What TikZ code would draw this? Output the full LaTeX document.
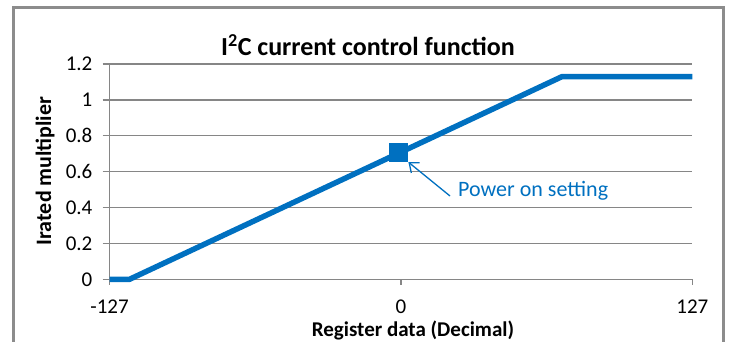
\documentclass[tikz,border=0pt]{standalone}
\usepackage{fontspec}
\setmainfont{Carlito}
\usetikzlibrary{arrows.meta,positioning}

\definecolor{lineblue}{HTML}{0070C0}
\definecolor{gridgray}{HTML}{868686}
\definecolor{framegray}{HTML}{8C8C8C}

\begin{document}
\begin{tikzpicture}[
    x=1pt, y=1pt,
    frame/.style={draw=framegray, line width=3pt},
    grid line/.style={draw=gridgray, line width=1.3pt},
    curve/.style={draw=lineblue, line width=5.5pt, line join=round},
    marker/.style={rectangle, fill=lineblue, minimum size=19pt, inner sep=0pt},
    ticklabel/.style={font=\fontsize{21}{21}\selectfont, inner sep=1pt},
    axislabel/.style={font=\bfseries\fontsize{21}{21}\selectfont, inner sep=0pt},
    title/.style={font=\bfseries\fontsize{26}{26}\selectfont, inner sep=0pt},
    note/.style={font=\fontsize{22}{22}\selectfont, text=lineblue, inner sep=1pt},
    pointer/.style={-{Straight Barb[length=8pt, width=13pt]}, draw=lineblue, line width=1.3pt}
]
\useasboundingbox (0,0) rectangle (731,342);

% Frame (bottom edge cut off)
\draw[frame] (13,-10) -- (13,334) -- (723,334) -- (723,-10);

% Title
\node[title] (ttl) at (368,297) {I\textsuperscript{2}C current control function};

% Plot area: register data -> x, multiplier -> y
\begin{scope}[x=2.2945pt, y=179.4pt, shift={(401pt,62.7pt)}]

% Grid lines and y ticks
\foreach \v in {0.2,0.4,0.6,0.8,1,1.2} {
    \draw[grid line] (-130,\v) -- (127,\v);
}
\foreach \v/\lbl in {0/0, 0.2/0.2, 0.4/0.4, 0.6/0.6, 0.8/0.8, 1/1, 1.2/1.2} {
    \node[ticklabel, anchor=east] (y\lbl) at (-134,\v) {\lbl};
}

% Axes
\draw[grid line] (-127,1.2) -- (-127,0);
\draw[grid line] (-130,0) -- (127,0);
\foreach \t in {-127,0,127} {
    \draw[grid line] (\t,0) -- (\t,-0.03);
    \node[ticklabel, anchor=base] (x\t) at (\t,-0.193) {\t};
}

% Transfer curve
\draw[curve] (-127,0) -- (-118.3,0) -- (70.2,1.13) -- (127,1.13);

% Power on setting
\node[marker] (pos) at (-1,0.707) {};
\end{scope}

\node[note, anchor=west] (lbl) at (457,151) {Power on setting};
\draw[pointer] (450,146) -- (pos.south east);

% Axis titles
\node[axislabel, anchor=base] (xlab) at (413,5.5) {Register data (Decimal)};
\node[axislabel, rotate=90, font=\bfseries\fontsize{22}{22}\selectfont] (ylab) at (45,171) {Irated multiplier};

\end{tikzpicture}
\end{document}
